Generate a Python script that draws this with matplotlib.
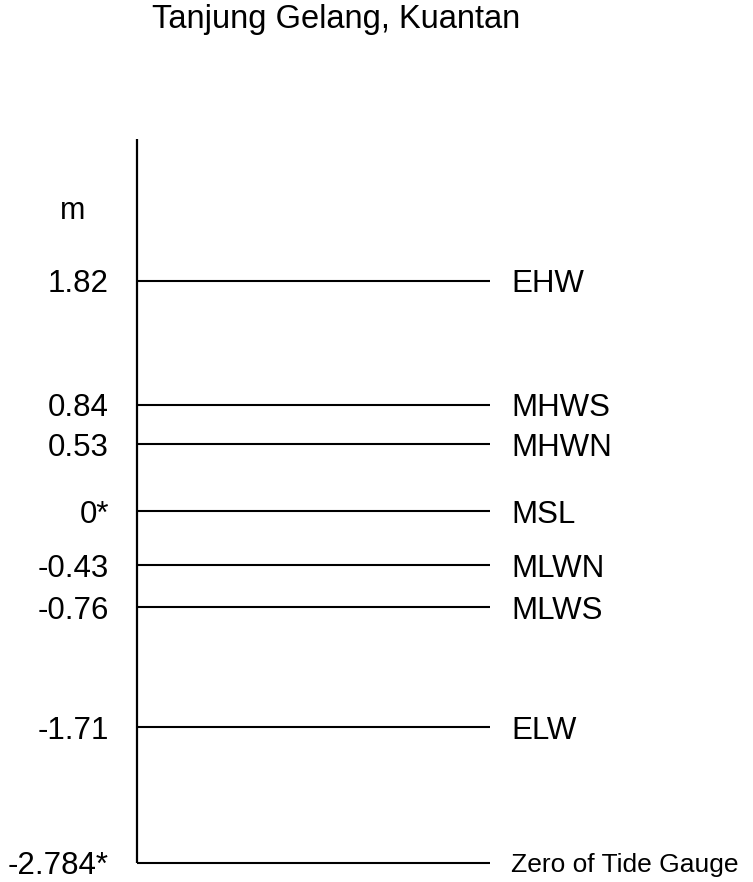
import matplotlib
matplotlib.use("Agg")
import matplotlib.pyplot as plt

# tide levels (m) and their names
levels = [1.82, 0.84, 0.53, 0.0, -0.43, -0.76, -1.71, -2.784]
value_labels = ["1.82", "0.84", "0.53", "0*", "-0.43", "-0.76", "-1.71", "-2.784*"]
names = ["EHW", "MHWS", "MHWN", "MSL", "MLWN", "MLWS", "ELW", "Zero of Tide Gauge"]
title = "Tanjung Gelang, Kuantan"
unit = "m"

plt.rcParams["font.family"] = ["Liberation Sans", "DejaVu Sans"]

fig = plt.figure(figsize=(7.53, 8.82), dpi=100)
ax = fig.add_axes([0, 0, 1, 1])
ax.set_xlim(0, 753)
ax.set_ylim(-2.935, 4.043)
ax.axis("off")

x0, x1 = 137, 490
ax.vlines(x0, levels[-1], 2.94, color="black", lw=1.6)
ax.hlines(levels, x0, x1, color="black", lw=1.5)

for lev, vl, nm in zip(levels, value_labels, names):
    ax.text(109, lev, vl, ha="right", va="center_baseline", fontsize=22.5)
    fs = 19 if nm.startswith("Zero") else 22.5
    ax.text(511, lev, nm, ha="left", va="center_baseline", fontsize=fs)

ax.text(73, 2.40, unit, ha="center", va="center_baseline", fontsize=22)
ax.text(336, 3.885, title, ha="center", va="center", fontsize=23.5)

fig.savefig("out.png", dpi=100)
